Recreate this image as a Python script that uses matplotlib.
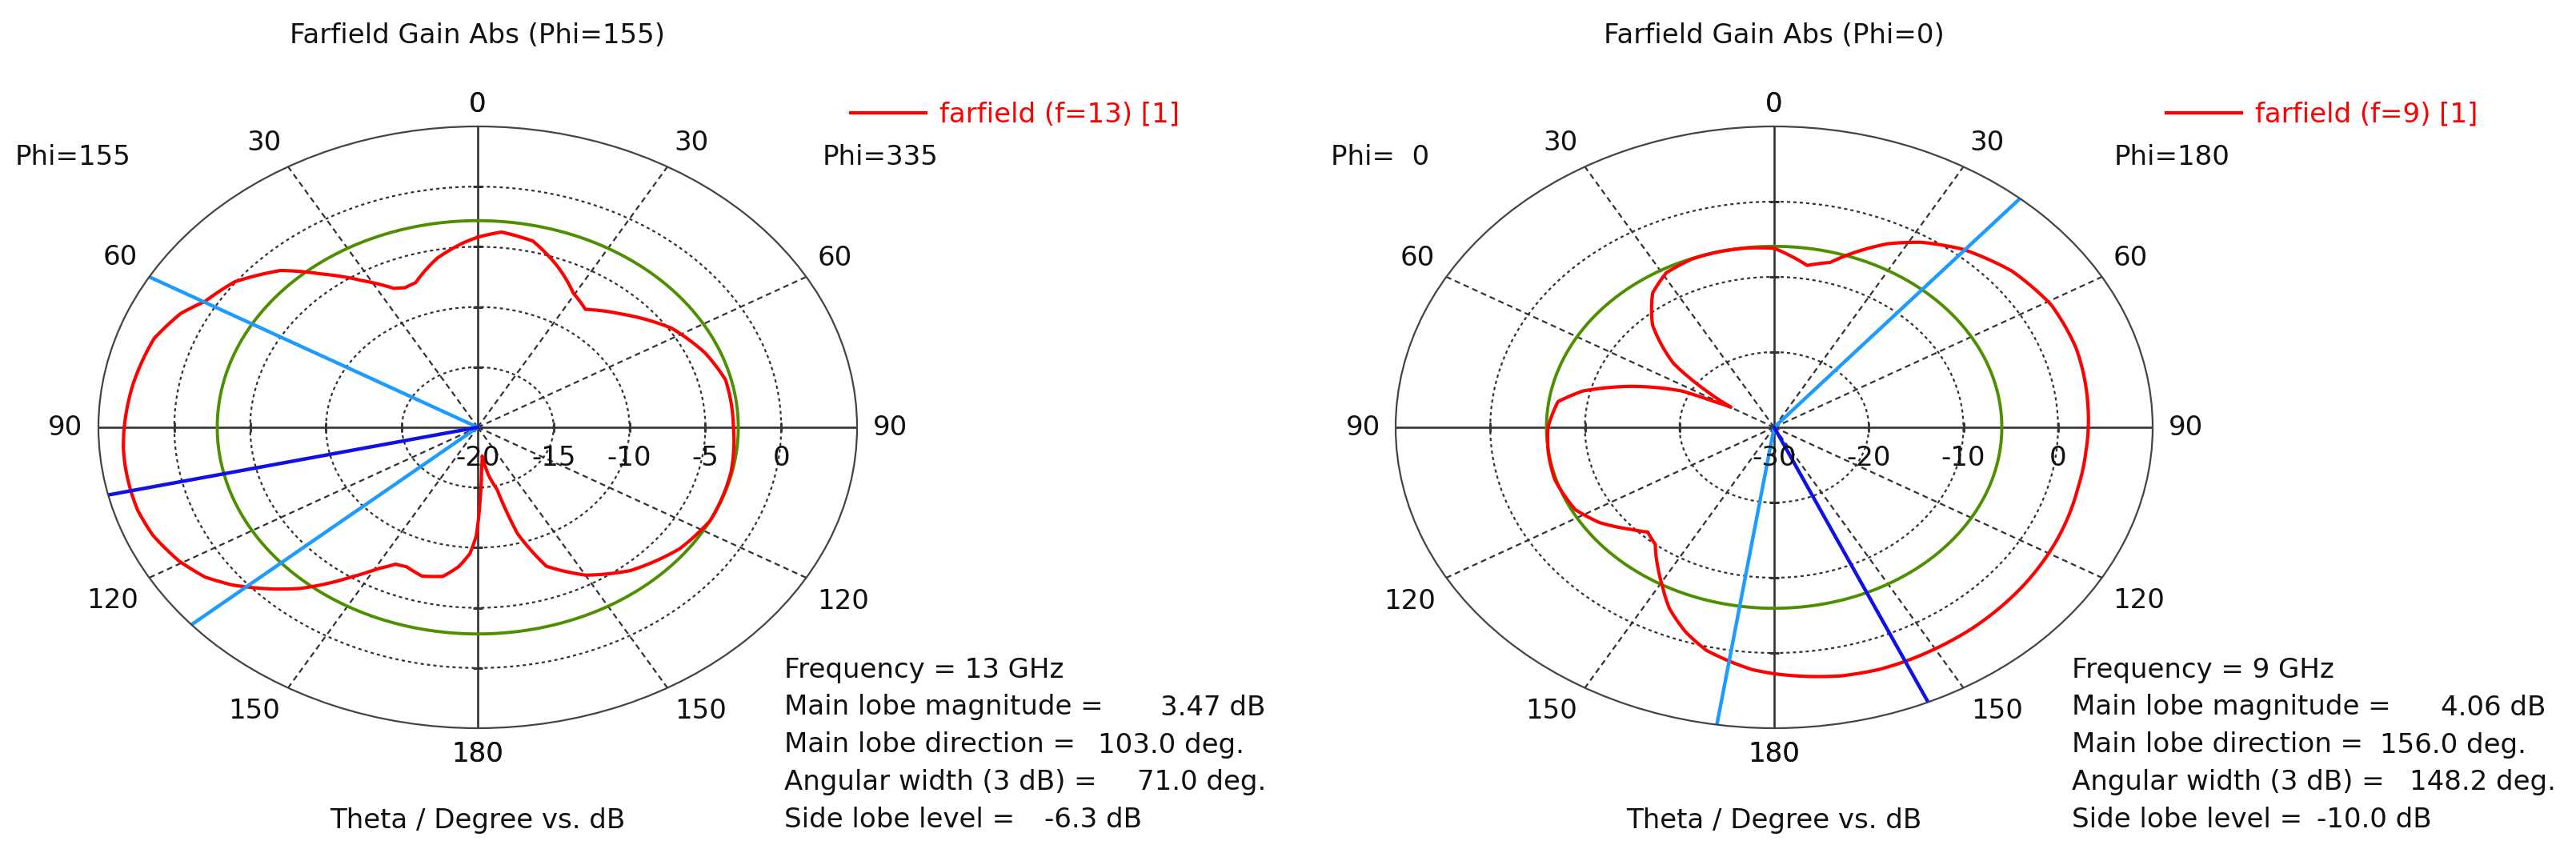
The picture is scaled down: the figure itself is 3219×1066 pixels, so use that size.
import numpy as np
import matplotlib.pyplot as plt

W, H = 3219, 1066
FS = 24.5

# left panel (Phi=155 / 335), theta counted counter-clockwise from the top
theta_13 = [0, 4, 10.8, 18.8, 22.5, 25.6, 32.1, 39, 44.9, 52.9,
            59.8, 64.2, 70.9, 81, 90, 94.2, 98, 103, 107, 112.7,
            119.5, 124.7, 129, 134.7, 138.8, 142.2, 146.1, 150.6, 154.5, 157.9,
            163.5, 169.5, 173.8, 177.2, 179.4, 181.4, 184, 187, 190, 193.8,
            196.5, 201.4, 210.1, 220.3, 232.8, 243.2, 257.4, 270, 283.6, 292.5,
            302.8, 314.5, 324.1, 330.5, 338.7, 346.8, 354.5, 360]
gain_13 = [-4.2, -4.7, -5.7, -7.3, -7.45, -7.2, -5.6, -3.6, -1.6, 0.06,
           0.8, 1.74, 2.57, 3.0, 3.3, 3.42, 3.46, 3.47, 3.45, 3.22,
           2.6, 1.86, 0.82, -0.9, -2.2, -3.5, -5.0, -6.5, -7.4, -7.5,
           -7.1, -7.4, -8.35, -9.5, -11.0, -13.9, -16.5, -17.6, -16.0, -14.7,
           -10.8, -7.6, -5.8, -4.4, -3.3, -2.83, -2.9, -3.15, -3.2, -3.8,
           -4.8, -6.6, -7.9, -7.2, -5.6, -4.1, -3.7, -4.2]

# right panel (Phi=0 / 180), theta counted clockwise from the top
theta_9 = [0, 5.1, 9.2, 15.1, 20.2, 26.2, 32.3, 40.1, 50.4, 60.9,
           71.7, 84.2, 95.4, 104.3, 115.8, 128.3, 142.1, 156, 161, 167.9,
           175.2, 180, 184.1, 188.4, 193.6, 198.9, 204.7, 209.2, 213.2, 218.9,
           223.8, 228, 235.6, 242.5, 253.2, 262, 270, 278.5, 283.4, 289.9,
           296.3, 298.4, 300.4, 304, 308.6, 316.6, 324.3, 331, 338.8, 346.2,
           353.3, 360]
gain_9 = [-6.2, -7.3, -8.2, -7.3, -5.2, -2.8, -0.9, 0.95, 2.6, 3.5,
          3.6, 3.3, 3.1, 3.1, 3.4, 3.7, 3.95, 4.06, 4.05, 3.8,
          3.2, 2.76, 2.3, 1.5, 0.5, -1.2, -3.5, -5.8, -7.6, -10.0,
          -10.7, -9.7, -7.6, -6.3, -5.8, -5.9, -6.1, -6.9, -9.2, -14.0,
          -19.1, -22.8, -24.7, -21.4, -16.4, -11.3, -8.0, -6.5, -6.0, -5.94,
          -6.0, -6.2]

freqs = [13, 9]
main_mag = [3.47, 4.06]
main_dir = [103.0, 156.0]
ang_width = [71.0, 148.2]
side_lobe = [-6.3, -10.0]
beam_edges = [[60.0, 131.0], [40.5, 188.7]]
r_ticks = [[-20, -15, -10, -5, 0, 5], [-30, -20, -10, 0, 10]]
titles = ['Farfield Gain Abs (Phi=155)', 'Farfield Gain Abs (Phi=0)']
phi_left = ['Phi=155', 'Phi=  0']
phi_right = ['Phi=335', 'Phi=180']
legend_labels = ['farfield (f=13) [1]', 'farfield (f=9) [1]']
angle_labels = [0, 30, 60, 90, 120, 150, 180]

thetas = [theta_13, theta_9]
gains = [gain_13, gain_9]
directions = [1, -1]

# layout (pixels)
centers = [(597, 534), (2217, 534)]
radii = [(474, 376), (473, 376)]
phi_x = [(19, 1028), (1663, 2642)]
legend_x = [1063, 2707]
info_x = [980, 2589]
value_x = [[1450, 1372, 1421, 1305], [3050, 2974, 3011, 2895]]
info_y = [838, 884, 931, 978, 1025]
# offset of the angle labels from the outer ring (outward px, down px)
label_off = {0: (0, -28), 30: (30, -30), 60: (36, -24), 90: (41, 0),
             120: (46, 29), 150: (42, 29), 180: (0, 33)}

grid_c = '#333333'
txt_c = '#111111'

fig = plt.figure(figsize=(W / 100, H / 100), dpi=100)


def fx(x):
    return x / W


def fy(y):
    return 1 - y / H


for i in range(2):
    cx, cy = centers[i]
    rx, ry = radii[i]
    d = directions[i]
    ax = fig.add_axes([fx(cx - rx), fy(cy + ry), 2 * rx / W, 2 * ry / H],
                      projection='polar')
    ax.set_aspect('auto')
    ax.set_theta_zero_location('N')
    ax.set_theta_direction(d)
    rt = r_ticks[i]
    rmin, rmax = rt[0], rt[-1]
    ax.set_ylim(rmin, rmax)
    ax.set_xticks([])
    ax.set_yticks([])
    ax.grid(False)
    ax.spines['polar'].set_color('#444444')
    ax.spines['polar'].set_linewidth(1.6)

    th = np.linspace(0, 2 * np.pi, 721)
    for r in rt[1:-1]:
        ax.plot(th, np.full_like(th, r), color=grid_c, lw=1.6, ls=(0, (1.8, 1.8)))
    for a in [30, 60, 120, 150, 210, 240, 300, 330]:
        ax.plot([np.radians(a)] * 2, [rmin, rmax], color=grid_c, lw=1.6,
                ls=(0, (3.2, 2.2)))
    for a in [0, 90, 180, 270]:
        ax.plot([np.radians(a)] * 2, [rmin, rmax], color=grid_c, lw=1.9)
    # small ticks where rings meet the axes
    for a in [90, 270]:
        ax.plot(np.radians([a] * (len(rt) - 2)), rt[1:-1], ls='none',
                marker='|', ms=8, mew=2, color=grid_c)
    for a in [0, 180]:
        ax.plot(np.radians([a] * (len(rt) - 2)), rt[1:-1], ls='none',
                marker='_', ms=8, mew=2, color=grid_c)

    # side lobe level ring
    ax.plot(th, np.full_like(th, main_mag[i] + side_lobe[i]),
            color='#4E8F00', lw=2.8)
    ln, = ax.plot(np.radians(thetas[i]), gains[i], color='#FF0000', lw=3.0,
                  label=legend_labels[i])
    ln.get_path()._interpolation_steps = 16  # follow the polar grid between samples
    for a in beam_edges[i]:
        ax.plot([np.radians(a)] * 2, [rmin, rmax], color='#1E9BFF', lw=3.2)
    ax.plot([np.radians(main_dir[i])] * 2, [rmin, rmax], color='#1010E8', lw=3.2)

    # angle labels on both halves (screen angle clockwise from top)
    for a in angle_labels:
        dx, dy = label_off[a]
        for scr, sgn in sorted({(a % 360, 1), ((360 - a) % 360, -1)}):
            t = scr if d == -1 else (360 - scr) % 360
            ax.annotate(str(a), xy=(np.radians(t), rmax),
                        xytext=(sgn * dx if a not in (0, 180) else 0, -dy),
                        textcoords='offset pixels', ha='center', va='center',
                        fontsize=FS, color=txt_c)

    # radial dB labels on the right-hand axis
    side = 90 if d == -1 else 270
    for r in rt[:-1]:
        ax.annotate(str(r), xy=(np.radians(side), r), xytext=(0, -38),
                    textcoords='offset pixels', ha='center', va='center',
                    fontsize=FS, color=txt_c)

    ax.legend(loc='center left', bbox_to_anchor=(fx(legend_x[i]), fy(143)),
              bbox_transform=fig.transFigure, frameon=False, fontsize=FS,
              handlelength=2.75, handletextpad=0.5, borderpad=0,
              borderaxespad=0, labelcolor='linecolor')

    fig.text(fx(cx), fy(44), titles[i], ha='center', va='center',
             fontsize=FS, color=txt_c)
    fig.text(fx(phi_x[i][0]), fy(196), phi_left[i], ha='left', va='center',
             fontsize=FS, color=txt_c)
    fig.text(fx(phi_x[i][1]), fy(196), phi_right[i], ha='left', va='center',
             fontsize=FS, color=txt_c)
    fig.text(fx(cx), fy(1025), 'Theta / Degree vs. dB', ha='center',
             va='center', fontsize=FS, color=txt_c)

    labels = ['Main lobe magnitude =', 'Main lobe direction =',
              'Angular width (3 dB) =', 'Side lobe level =']
    values = [f'{main_mag[i]:.2f} dB', f'{main_dir[i]:.1f} deg.',
              f'{ang_width[i]:.1f} deg.', f'{side_lobe[i]:.1f} dB']
    fig.text(fx(info_x[i]), fy(info_y[0]), f'Frequency = {freqs[i]} GHz',
             ha='left', va='center', fontsize=FS, color=txt_c)
    for k in range(4):
        fig.text(fx(info_x[i]), fy(info_y[k + 1]), labels[k], ha='left',
                 va='center', fontsize=FS, color=txt_c)
        fig.text(fx(value_x[i][k]), fy(info_y[k + 1]), values[k], ha='left',
                 va='center', fontsize=FS, color=txt_c)

fig.savefig('out.png', dpi=100)
